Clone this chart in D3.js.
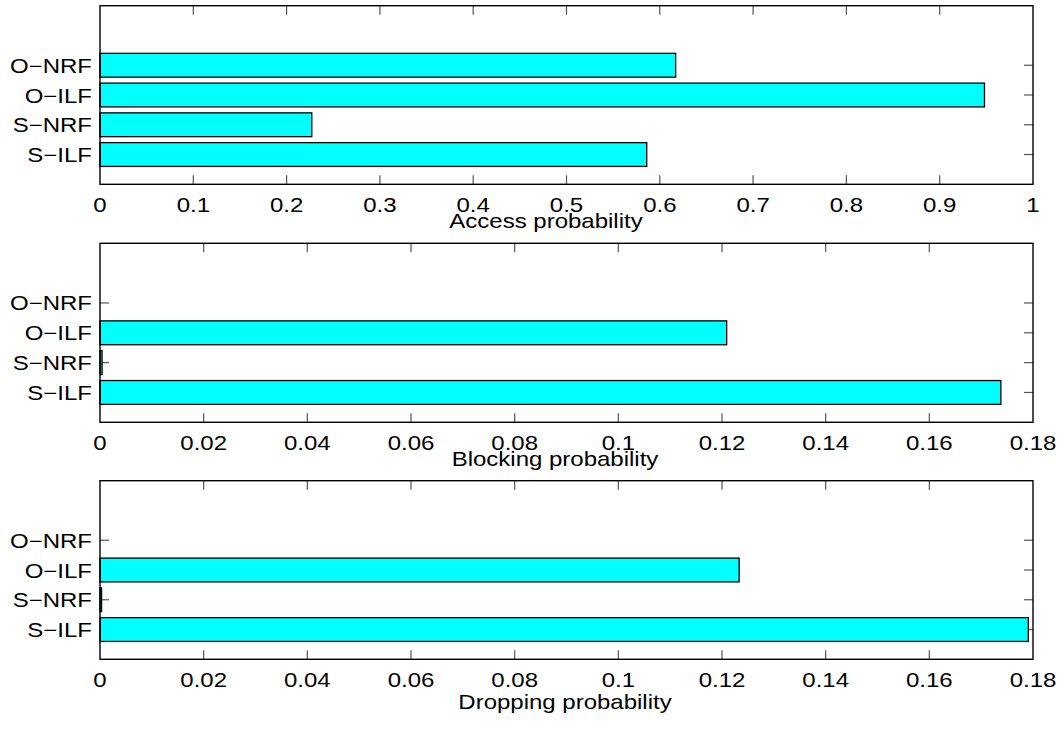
<!DOCTYPE html>
<html><head><meta charset="utf-8">
<script src="https://cdn.jsdelivr.net/npm/d3@7"></script>
<style>body{margin:0;background:#fff}svg{display:block}text{font-family:"Liberation Sans",Arial,sans-serif;fill:#000}</style>
</head><body><svg id="c" width="1060" height="729"></svg>
<script>
const categories = ["S−ILF", "S−NRF", "O−ILF", "O−NRF"];
const accessValues = [0.586, 0.227, 0.948, 0.617];
const blockingValues = [0.1738, 0.0004, 0.1209, 0];
const droppingValues = [0.1791, 0.0003, 0.1233, 0];
const accessTicks = [0, 0.1, 0.2, 0.3, 0.4, 0.5, 0.6, 0.7, 0.8, 0.9, 1];
const probTicks = [0, 0.02, 0.04, 0.06, 0.08, 0.1, 0.12, 0.14, 0.16, 0.18];
const xLabels = ["Access probability", "Blocking probability", "Dropping probability"];

const panels = [
  {values: accessValues, ticks: accessTicks, max: 1, top: 5.7, bottom: 184.3, label: xLabels[0], lx: 546, ly: 228},
  {values: blockingValues, ticks: probTicks, max: 0.18, top: 243.3, bottom: 422.3, label: xLabels[1], lx: 555, ly: 466},
  {values: droppingValues, ticks: probTicks, max: 0.18, top: 480.7, bottom: 659.3, label: xLabels[2], lx: 565, ly: 709}
];
const left = 100, right = 1033, SX = 1.2, FS = 20;
const svg = d3.select("#c");
const fmt = v => String(+v.toFixed(2));

function txt(g, x, y, s, anchor) {
  g.append("text").attr("transform", `translate(${x},${y}) scale(${SX},1)`)
    .attr("text-anchor", anchor).attr("font-size", FS).text(s);
}

panels.forEach(p => {
  const g = svg.append("g");
  const x = d3.scaleLinear().domain([0, p.max]).range([left, right]);
  const y = d3.scaleLinear().domain([0, 6]).range([p.bottom, p.top]);
  const cats = categories.map((c, i) => ({c, pos: i + 1, v: p.values[i]}));
  const bh = y(0) - y(0.8);
  const tl = 9;
  p.ticks.forEach(t => {
    if (t === 0 || t === p.max) return;
    g.append("line").attr("x1", x(t)).attr("x2", x(t)).attr("y1", p.top).attr("y2", p.top + tl).attr("stroke", "#555").attr("stroke-width", 1.2);
    g.append("line").attr("x1", x(t)).attr("x2", x(t)).attr("y1", p.bottom).attr("y2", p.bottom - tl).attr("stroke", "#555").attr("stroke-width", 1.2);
  });
  cats.forEach(d => {
    g.append("line").attr("x1", left).attr("x2", left + tl).attr("y1", y(d.pos)).attr("y2", y(d.pos)).attr("stroke", "#555").attr("stroke-width", 1.2);
    g.append("line").attr("x1", right).attr("x2", right - tl).attr("y1", y(d.pos)).attr("y2", y(d.pos)).attr("stroke", "#555").attr("stroke-width", 1.2);
  });
  g.selectAll("rect.bar").data(cats.filter(d => d.v > 0)).enter().append("rect")
    .attr("x", x(0)).attr("y", d => y(d.pos) - bh / 2)
    .attr("width", d => Math.max(x(d.v) - x(0), 0.5)).attr("height", bh)
    .attr("fill", "#00ffff").attr("stroke", "#000").attr("stroke-width", 1.3);
  g.append("rect").attr("x", left).attr("y", p.top).attr("width", right - left).attr("height", p.bottom - p.top)
    .attr("fill", "none").attr("stroke", "#000").attr("stroke-width", 1.4);
  p.ticks.forEach(t => txt(g, x(t), p.bottom + 27.5, fmt(t), "middle"));
  cats.forEach(d => txt(g, 92, y(d.pos) + 7.5, d.c, "end"));
  txt(g, p.lx, p.ly, p.label, "middle");
});
</script></body></html>
